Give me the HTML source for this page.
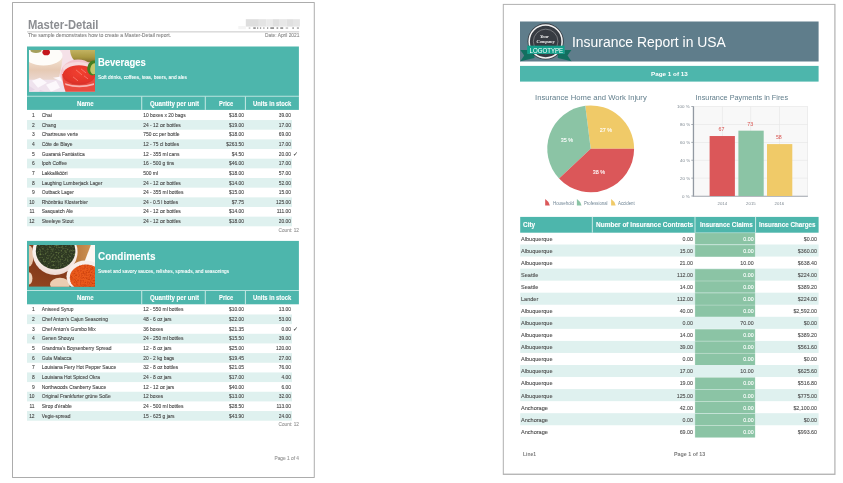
<!DOCTYPE html>
<html lang="en"><head><meta charset="utf-8"><title>Report previews</title>
<style>
html,body{margin:0;padding:0;background:#fff;}
body{width:843px;height:483px;position:relative;overflow:hidden;font-family:"Liberation Sans",sans-serif;}
body>div,body>svg,.tl>div{position:absolute;}
.tl{left:0;top:0;width:843px;height:483px;filter:blur(0.3px);}
.t{white-space:nowrap;transform-origin:0 50%;-webkit-text-stroke:0.1px currentColor;}
.ns{-webkit-text-stroke:0;}
.page{box-sizing:border-box;border:1px solid #a3a3a3;background:#fff;}
.ph{display:block;overflow:hidden;}
</style></head><body>
<svg style="left:0;top:0" width="843" height="483" viewBox="0 0 843 483">
<rect x="12.10" y="2.10" width="302.60" height="475.80" fill="#a3a3a3"/>
<rect x="13.00" y="3.00" width="300.80" height="474.00" fill="#fff"/>
<rect x="27.00" y="31.00" width="272.20" height="1.60" fill="#dcdcdc"/>
<rect x="245.80" y="19.20" width="13.10" height="7.40" fill="#dedede"/>
<rect x="258.80" y="19.20" width="7.60" height="7.40" fill="#e4e4e4"/>
<rect x="266.30" y="19.20" width="6.50" height="7.40" fill="#eaeaea"/>
<rect x="272.70" y="19.20" width="7.00" height="7.40" fill="#dfdfdf"/>
<rect x="279.60" y="19.20" width="7.10" height="7.40" fill="#e7e7e7"/>
<rect x="286.60" y="19.20" width="6.50" height="7.40" fill="#e0e0e0"/>
<rect x="293.00" y="19.20" width="6.90" height="7.40" fill="#e5e5e5"/>
<rect x="238.30" y="26.00" width="7.60" height="3.20" fill="#f4f4f4"/>
<rect x="248.70" y="27.50" width="1.66" height="1.10" fill="#b5b5b5"/>
<rect x="253.27" y="27.50" width="2.49" height="1.10" fill="#555"/>
<rect x="257.01" y="27.50" width="1.25" height="1.10" fill="#6a6a6a"/>
<rect x="259.92" y="27.50" width="1.25" height="1.10" fill="#6a6a6a"/>
<rect x="263.24" y="27.50" width="1.25" height="1.10" fill="#777"/>
<rect x="266.98" y="27.50" width="1.25" height="1.10" fill="#666"/>
<rect x="270.30" y="27.50" width="3.74" height="1.10" fill="#505050"/>
<rect x="276.53" y="27.50" width="1.66" height="1.10" fill="#666"/>
<rect x="280.27" y="27.50" width="2.91" height="1.10" fill="#555"/>
<rect x="285.66" y="27.50" width="2.49" height="1.10" fill="#aaa"/>
<rect x="292.31" y="27.50" width="1.66" height="1.10" fill="#777"/>
<rect x="296.88" y="27.50" width="2.08" height="1.10" fill="#888"/>
<rect x="27.00" y="46.50" width="271.90" height="63.40" fill="#4db6ac"/>
<rect x="27.00" y="95.80" width="271.90" height="0.80" fill="#d5efec"/>
<rect x="141.30" y="96.60" width="0.90" height="13.30" fill="#d5efec"/>
<rect x="204.80" y="96.60" width="0.90" height="13.30" fill="#d5efec"/>
<rect x="244.90" y="96.60" width="0.90" height="13.30" fill="#d5efec"/>
<rect x="27.00" y="120.06" width="265.00" height="9.66" fill="#dff1ef"/>
<rect x="27.00" y="139.38" width="265.00" height="9.66" fill="#dff1ef"/>
<rect x="27.00" y="158.70" width="265.00" height="9.66" fill="#dff1ef"/>
<rect x="27.00" y="178.02" width="265.00" height="9.66" fill="#dff1ef"/>
<rect x="27.00" y="197.34" width="265.00" height="9.66" fill="#dff1ef"/>
<rect x="27.00" y="216.66" width="265.00" height="9.66" fill="#dff1ef"/>
<rect x="27.00" y="240.90" width="271.90" height="63.40" fill="#4db6ac"/>
<rect x="27.00" y="290.20" width="271.90" height="0.80" fill="#d5efec"/>
<rect x="141.30" y="291.00" width="0.90" height="13.30" fill="#d5efec"/>
<rect x="204.80" y="291.00" width="0.90" height="13.30" fill="#d5efec"/>
<rect x="244.90" y="291.00" width="0.90" height="13.30" fill="#d5efec"/>
<rect x="27.00" y="314.46" width="265.00" height="9.66" fill="#dff1ef"/>
<rect x="27.00" y="333.78" width="265.00" height="9.66" fill="#dff1ef"/>
<rect x="27.00" y="353.10" width="265.00" height="9.66" fill="#dff1ef"/>
<rect x="27.00" y="372.42" width="265.00" height="9.66" fill="#dff1ef"/>
<rect x="27.00" y="391.74" width="265.00" height="9.66" fill="#dff1ef"/>
<rect x="27.00" y="411.06" width="265.00" height="9.66" fill="#dff1ef"/>
<rect x="502.80" y="3.90" width="332.70" height="471.00" fill="#b0b0b0"/>
<rect x="503.80" y="4.90" width="330.50" height="468.70" fill="#fff"/>
<rect x="520.00" y="21.50" width="298.60" height="40.00" fill="#5f7d8b"/>
<rect x="520.00" y="65.90" width="298.60" height="15.70" fill="#4db6ac"/>
<rect x="693.70" y="106.50" width="114.20" height="89.50" fill="#f8f8f8"/>
<rect x="721.95" y="106.50" width="0.60" height="89.50" fill="#e6e6e6"/>
<rect x="750.50" y="106.50" width="0.60" height="89.50" fill="#e6e6e6"/>
<rect x="779.05" y="106.50" width="0.60" height="89.50" fill="#e6e6e6"/>
<rect x="807.40" y="106.50" width="0.60" height="89.50" fill="#e6e6e6"/>
<rect x="693.70" y="106.20" width="114.20" height="0.60" fill="#e6e6e6"/>
<rect x="693.70" y="124.10" width="114.20" height="0.60" fill="#e6e6e6"/>
<rect x="693.70" y="142.00" width="114.20" height="0.60" fill="#e6e6e6"/>
<rect x="693.70" y="159.90" width="114.20" height="0.60" fill="#e6e6e6"/>
<rect x="693.70" y="177.80" width="114.20" height="0.60" fill="#e6e6e6"/>
<rect x="692.80" y="106.50" width="1.30" height="90.00" fill="#9299a2"/>
<rect x="692.80" y="195.70" width="115.10" height="1.20" fill="#aeb3ba"/>
<rect x="691.30" y="195.60" width="2.40" height="0.80" fill="#9299a2"/>
<rect x="691.30" y="177.70" width="2.40" height="0.80" fill="#9299a2"/>
<rect x="691.30" y="159.80" width="2.40" height="0.80" fill="#9299a2"/>
<rect x="691.30" y="141.90" width="2.40" height="0.80" fill="#9299a2"/>
<rect x="691.30" y="124.00" width="2.40" height="0.80" fill="#9299a2"/>
<rect x="691.30" y="106.10" width="2.40" height="0.80" fill="#9299a2"/>
<rect x="709.60" y="136.03" width="25.30" height="59.97" fill="#db5759"/>
<rect x="738.40" y="130.67" width="25.30" height="65.33" fill="#8bc4a5"/>
<rect x="767.00" y="144.09" width="25.30" height="51.91" fill="#f0ca68"/>
<rect x="520.20" y="216.90" width="298.40" height="15.80" fill="#4db6ac"/>
<rect x="591.85" y="216.90" width="0.90" height="15.80" fill="#d5efec"/>
<rect x="694.55" y="216.90" width="0.90" height="15.80" fill="#d5efec"/>
<rect x="755.15" y="216.90" width="0.90" height="15.80" fill="#d5efec"/>
<rect x="694.90" y="232.75" width="60.30" height="11.95" fill="#b4d9c6"/>
<rect x="695.30" y="233.20" width="59.60" height="11.30" fill="#8bc4a5"/>
<rect x="520.20" y="244.50" width="298.40" height="12.05" fill="#dff1ef"/>
<rect x="694.90" y="244.80" width="60.30" height="11.95" fill="#b4d9c6"/>
<rect x="695.30" y="245.25" width="59.60" height="11.30" fill="#8bc4a5"/>
<rect x="520.20" y="268.60" width="298.40" height="12.05" fill="#dff1ef"/>
<rect x="694.90" y="268.90" width="60.30" height="11.95" fill="#b4d9c6"/>
<rect x="695.30" y="269.35" width="59.60" height="11.30" fill="#8bc4a5"/>
<rect x="694.90" y="280.95" width="60.30" height="11.95" fill="#b4d9c6"/>
<rect x="695.30" y="281.40" width="59.60" height="11.30" fill="#8bc4a5"/>
<rect x="520.20" y="292.70" width="298.40" height="12.05" fill="#dff1ef"/>
<rect x="694.90" y="293.00" width="60.30" height="11.95" fill="#b4d9c6"/>
<rect x="695.30" y="293.45" width="59.60" height="11.30" fill="#8bc4a5"/>
<rect x="694.90" y="305.05" width="60.30" height="11.95" fill="#b4d9c6"/>
<rect x="695.30" y="305.50" width="59.60" height="11.30" fill="#8bc4a5"/>
<rect x="520.20" y="316.80" width="298.40" height="12.05" fill="#dff1ef"/>
<rect x="694.90" y="329.15" width="60.30" height="11.95" fill="#b4d9c6"/>
<rect x="695.30" y="329.60" width="59.60" height="11.30" fill="#8bc4a5"/>
<rect x="520.20" y="340.90" width="298.40" height="12.05" fill="#dff1ef"/>
<rect x="694.90" y="341.20" width="60.30" height="11.95" fill="#b4d9c6"/>
<rect x="695.30" y="341.65" width="59.60" height="11.30" fill="#8bc4a5"/>
<rect x="694.90" y="353.25" width="60.30" height="11.95" fill="#b4d9c6"/>
<rect x="695.30" y="353.70" width="59.60" height="11.30" fill="#8bc4a5"/>
<rect x="520.20" y="365.00" width="298.40" height="12.05" fill="#dff1ef"/>
<rect x="694.90" y="377.35" width="60.30" height="11.95" fill="#b4d9c6"/>
<rect x="695.30" y="377.80" width="59.60" height="11.30" fill="#8bc4a5"/>
<rect x="520.20" y="389.10" width="298.40" height="12.05" fill="#dff1ef"/>
<rect x="694.90" y="389.40" width="60.30" height="11.95" fill="#b4d9c6"/>
<rect x="695.30" y="389.85" width="59.60" height="11.30" fill="#8bc4a5"/>
<rect x="694.90" y="401.45" width="60.30" height="11.95" fill="#b4d9c6"/>
<rect x="695.30" y="401.90" width="59.60" height="11.30" fill="#8bc4a5"/>
<rect x="520.20" y="413.20" width="298.40" height="12.05" fill="#dff1ef"/>
<rect x="694.90" y="413.50" width="60.30" height="11.95" fill="#b4d9c6"/>
<rect x="695.30" y="413.95" width="59.60" height="11.30" fill="#8bc4a5"/>
<rect x="694.90" y="425.55" width="60.30" height="11.95" fill="#b4d9c6"/>
<rect x="695.30" y="426.00" width="59.60" height="11.30" fill="#8bc4a5"/>
</svg>
<svg class="ph" style="left:29.2px;top:50.40px" width="66" height="41.8" viewBox="0 0 66 42" preserveAspectRatio="none">
<defs><filter id="b1" x="-10%" y="-10%" width="120%" height="120%"><feGaussianBlur stdDeviation="0.55"/></filter>
<filter id="b1b" x="-20%" y="-20%" width="140%" height="140%"><feGaussianBlur stdDeviation="1.1"/></filter>
<clipPath id="c1"><rect width="66" height="42"/></clipPath>
<linearGradient id="gm" x1="0" y1="0" x2="0" y2="1"><stop offset="0" stop-color="#f3e2d2"/><stop offset="0.55" stop-color="#e6c9b3"/><stop offset="1" stop-color="#ead7cf"/></linearGradient>
<linearGradient id="gp" x1="0" y1="0" x2="0" y2="1"><stop offset="0" stop-color="#c6b765"/><stop offset="0.6" stop-color="#a99842"/><stop offset="1" stop-color="#7d6b28"/></linearGradient>
<radialGradient id="gr" cx="0.55" cy="0.35" r="0.75"><stop offset="0" stop-color="#f2402f"/><stop offset="0.7" stop-color="#e3342b"/><stop offset="1" stop-color="#c92c28"/></radialGradient>
</defs>
<g clip-path="url(#c1)"><rect width="66" height="42" fill="#f5e1e8"/>
<g filter="url(#b1)">
<rect x="-2" y="27" width="38" height="17" fill="#efe3ee"/>
<path d="M-2 8 L33.5 8 Q32 22 29 30 L-2 30Z" fill="url(#gm)"/>
<ellipse cx="14.5" cy="5.5" rx="19" ry="10" fill="#fefcf9"/>
<ellipse cx="7" cy="0.6" rx="5.5" ry="2.3" fill="#a59f5c"/>
<ellipse cx="17.2" cy="2.3" rx="3.8" ry="3.1" fill="#c4151d"/>
<path d="M41 -1 L67 -1 L67 11 Q55 15 45 10 Q41 6 41 -1Z" fill="url(#gp)"/>
<ellipse cx="49" cy="24" rx="17.5" ry="14.5" fill="#f3c4cc"/>
<ellipse cx="49" cy="18" rx="15" ry="6" fill="#f7d9dc"/>
<path d="M33 24 Q34 36 37 43 L66 43 L66 22 Z" fill="#ea4c40"/>
<ellipse cx="50" cy="25" rx="16.2" ry="9.8" fill="url(#gr)"/>
<path d="M36 33.5 Q50 38 65 33.5 L65 35.2 Q50 39.6 36.5 35.2Z" fill="#f8b4b2"/>
<path d="M47 20 l6 5 M52 19 l5 4 M55 26 l4 3 M44 27 l5 4" stroke="#f77a6c" stroke-width="0.9" fill="none"/>
<ellipse cx="64" cy="18" rx="5.6" ry="7.6" fill="#457f20" transform="rotate(12 64 18)"/>
<ellipse cx="65.3" cy="18.6" rx="3.8" ry="5.6" fill="#c3c76c" transform="rotate(12 64 18)"/>
<path d="M3 31 L11 28 L18 33 L9 38Z M17 35 L27 31 L31 38 L22 42Z M24 28 L31 27 L33 32Z" fill="#fcf8fc"/>
<path d="M0 36 L6 40 L0 42Z M11 40 L16 42 L10 42Z" fill="#e6d6e6"/>
</g></g></svg>
<svg class="ph" style="left:29.2px;top:244.80px" width="66" height="41.8" viewBox="0 0 66 42" preserveAspectRatio="none">
<defs><filter id="b2" x="-10%" y="-10%" width="120%" height="120%"><feGaussianBlur stdDeviation="0.5"/></filter>
<filter id="tx1" x="0" y="0" width="100%" height="100%" color-interpolation-filters="sRGB"><feTurbulence type="fractalNoise" baseFrequency="0.55" numOctaves="2" seed="4" result="n"/><feColorMatrix in="n" type="matrix" values="0 0 0 0 0.40  0 0 0 0 0.47  0 0 0 0 0.26  0 2.4 0 0 -1.1" result="sp"/><feComposite in="sp" in2="SourceGraphic" operator="in" result="spc"/><feMerge><feMergeNode in="SourceGraphic"/><feMergeNode in="spc"/></feMerge></filter>
<filter id="tx2" x="0" y="0" width="100%" height="100%" color-interpolation-filters="sRGB"><feTurbulence type="fractalNoise" baseFrequency="0.7" numOctaves="2" seed="9" result="n"/><feColorMatrix in="n" type="matrix" values="0 0 0 0 0.78  0 0 0 0 0.24  0 0 0 0 0.05  0 2.4 0 0 -1.0" result="sp"/><feComposite in="sp" in2="SourceGraphic" operator="in" result="spc"/><feMerge><feMergeNode in="SourceGraphic"/><feMergeNode in="spc"/></feMerge></filter>
<clipPath id="c2"><rect width="66" height="42"/></clipPath>
<radialGradient id="gw" cx="0.4" cy="0.3" r="0.8"><stop offset="0" stop-color="#7a3218"/><stop offset="1" stop-color="#93461f"/></radialGradient>
<linearGradient id="gwd" x1="0" y1="0" x2="1" y2="0"><stop offset="0" stop-color="#b9793c"/><stop offset="1" stop-color="#cd9355"/></linearGradient>
<radialGradient id="gb" cx="0.5" cy="0.2" r="0.9"><stop offset="0.6" stop-color="#faf3ef"/><stop offset="1" stop-color="#e9cfc6"/></radialGradient>
</defs>
<g clip-path="url(#c2)"><rect width="66" height="42" fill="url(#gw)"/>
<g filter="url(#b2)">
<path d="M47 -2 L63 -2 L56 17 L46 19Z" fill="url(#gwd)"/>
<path d="M62.6 -2 L68 -2 L68 24 L55 18Z" fill="#fdf9f4"/>
<ellipse cx="0.3" cy="11" rx="4.2" ry="10.5" fill="#e7c3a8"/>
<ellipse cx="0" cy="33.5" rx="3.4" ry="6.2" fill="#edd3bd"/>
<ellipse cx="31" cy="39.5" rx="10" ry="6.5" fill="#eccdb2"/>
<ellipse cx="26" cy="7" rx="22.6" ry="23.2" fill="url(#gb)"/>
<ellipse cx="26.6" cy="6" rx="19.8" ry="18.4" fill="#2d3823" filter="url(#tx1)"/>
<ellipse cx="56.5" cy="31.5" rx="19" ry="16" fill="#f8eee9"/>
<ellipse cx="57" cy="33" rx="16.2" ry="13.4" fill="#ea5a1c" filter="url(#tx2)"/>
</g></g></svg>
<svg class="ph" style="left:519px;top:21.6px" width="54" height="40" viewBox="0 0 54 40">
<path d="M1.35 28 L8.65 28 L8.65 31.9 L15.46 31.9 L15.46 36.1 L1.35 39.2 L5.24 33.6Z" fill="#126f60"/>
<path d="M52.4 28 L45.6 28 L45.6 31.9 L38.8 31.9 L38.8 36.1 L52.4 39.2 L48.5 33.6Z" fill="#126f60"/>
<circle cx="26.65" cy="19.46" r="18.1" fill="#373b42"/>
<circle cx="26.65" cy="19.46" r="16.5" fill="none" stroke="#f4f4f4" stroke-width="1.5"/>
<circle cx="26.65" cy="19.46" r="12.3" fill="none" stroke="#d5d5d5" stroke-width="0.4"/>
<text x="25.4" y="15.7" font-family="Liberation Serif,serif" font-style="italic" font-weight="bold" font-size="4.6" fill="#f4f4f4" text-anchor="middle">Your</text>
<text x="26.65" y="21.2" font-family="Liberation Serif,serif" font-style="italic" font-weight="bold" font-size="4.6" fill="#f4f4f4" text-anchor="middle">Company</text>
<rect x="8.16" y="23.65" width="37.45" height="8.25" fill="#12a08b"/>
<text x="27.4" y="30.75" font-family="Liberation Sans,sans-serif" font-size="7.2" fill="#fff" text-anchor="middle" textLength="33.6" lengthAdjust="spacingAndGlyphs">LOGOTYPE</text>
</svg>
<svg class="ph" style="left:540px;top:100px" width="100" height="110" viewBox="0 0 100 110"><path d="M50.70 48.80 L94.10 48.80 A43.4 43.4 0 0 0 45.26 5.74Z" fill="#f0ca68"/><path d="M50.70 48.80 L45.26 5.74 A43.4 43.4 0 0 0 19.06 78.51Z" fill="#8bc4a5"/><path d="M50.70 48.80 L19.06 78.51 A43.4 43.4 0 0 0 94.10 48.80Z" fill="#db5759"/><path d="M5.2 99.1 L5.2 105.4 L9.8 105.4 Q8.6 101.2 5.2 99.1Z" fill="#db5759"/><path d="M36.9 99.1 L36.9 105.4 L41.5 105.4 Q40.3 101.2 36.9 99.1Z" fill="#8bc4a5"/><path d="M71.1 99.1 L71.1 105.4 L75.7 105.4 Q74.5 101.2 71.1 99.1Z" fill="#f0ca68"/></svg>
<div class="tl">
<div class="t ns" style="left:27.70px;top:17px;font-size:11.9px;line-height:16px;color:#8c8e92;font-weight:bold;transform:scaleX(0.943);">Master-Detail</div>
<div class="t" style="left:27.50px;top:32px;font-size:4.9px;line-height:7px;color:#858585;transform:scaleX(1.042);">The sample demonstrates how to create a Master-Detail report.</div>
<div class="t" style="left:264.50px;top:32px;font-size:4.9px;line-height:7px;color:#8a8a8a;transform:scaleX(0.990);">Date: April 2021</div>
<div class="t" style="left:98.20px;top:56px;font-size:10.4px;line-height:13px;color:#fff;font-weight:bold;transform:scaleX(0.909);">Beverages</div>
<div class="t" style="left:98.10px;top:74px;font-size:4.85px;line-height:7px;color:#fff;">Soft drinks, coffees, teas, beers, and ales</div>
<div class="t" style="left:76.70px;top:99px;font-size:6.9px;line-height:9px;color:#fff;font-weight:bold;transform:scaleX(0.883);">Name</div>
<div class="t" style="left:149.60px;top:99px;font-size:6.9px;line-height:9px;color:#fff;font-weight:bold;transform:scaleX(0.891);">Quantity per unit</div>
<div class="t" style="left:218.55px;top:99px;font-size:6.9px;line-height:9px;color:#fff;font-weight:bold;transform:scaleX(0.847);">Price</div>
<div class="t" style="left:253.20px;top:99px;font-size:6.9px;line-height:9px;color:#fff;font-weight:bold;transform:scaleX(0.849);">Units in stock</div>
<div class="t" style="left:31.88px;top:112px;font-size:4.9px;line-height:7px;color:#464646;">1</div>
<div class="t" style="left:41.70px;top:112px;font-size:4.9px;line-height:7px;color:#464646;">Chai</div>
<div class="t" style="left:143.30px;top:112px;font-size:4.9px;line-height:7px;color:#464646;">10 boxes x 20 bags</div>
<div class="t" style="left:229.01px;top:112px;font-size:4.9px;line-height:7px;color:#464646;">$18.00</div>
<div class="t" style="left:278.74px;top:112px;font-size:4.9px;line-height:7px;color:#464646;">39.00</div>
<div class="t" style="left:31.88px;top:122px;font-size:4.9px;line-height:7px;color:#464646;">2</div>
<div class="t" style="left:41.70px;top:122px;font-size:4.9px;line-height:7px;color:#464646;">Chang</div>
<div class="t" style="left:143.30px;top:122px;font-size:4.9px;line-height:7px;color:#464646;">24 - 12 oz bottles</div>
<div class="t" style="left:229.01px;top:122px;font-size:4.9px;line-height:7px;color:#464646;">$19.00</div>
<div class="t" style="left:278.74px;top:122px;font-size:4.9px;line-height:7px;color:#464646;">17.00</div>
<div class="t" style="left:31.88px;top:131px;font-size:4.9px;line-height:7px;color:#464646;">3</div>
<div class="t" style="left:41.70px;top:131px;font-size:4.9px;line-height:7px;color:#464646;">Chartreuse verte</div>
<div class="t" style="left:143.30px;top:131px;font-size:4.9px;line-height:7px;color:#464646;">750 cc per bottle</div>
<div class="t" style="left:229.01px;top:131px;font-size:4.9px;line-height:7px;color:#464646;">$18.00</div>
<div class="t" style="left:278.74px;top:131px;font-size:4.9px;line-height:7px;color:#464646;">69.00</div>
<div class="t" style="left:31.88px;top:141px;font-size:4.9px;line-height:7px;color:#464646;">4</div>
<div class="t" style="left:41.70px;top:141px;font-size:4.9px;line-height:7px;color:#464646;">Côte de Blaye</div>
<div class="t" style="left:143.30px;top:141px;font-size:4.9px;line-height:7px;color:#464646;">12 - 75 cl bottles</div>
<div class="t" style="left:226.29px;top:141px;font-size:4.9px;line-height:7px;color:#464646;">$263.50</div>
<div class="t" style="left:278.74px;top:141px;font-size:4.9px;line-height:7px;color:#464646;">17.00</div>
<div class="t" style="left:31.88px;top:151px;font-size:4.9px;line-height:7px;color:#464646;">5</div>
<div class="t" style="left:41.70px;top:151px;font-size:4.9px;line-height:7px;color:#464646;">Guaraná Fantástica</div>
<div class="t" style="left:143.30px;top:151px;font-size:4.9px;line-height:7px;color:#464646;">12 - 355 ml cans</div>
<div class="t" style="left:231.74px;top:151px;font-size:4.9px;line-height:7px;color:#464646;">$4.50</div>
<div class="t" style="left:278.74px;top:151px;font-size:4.9px;line-height:7px;color:#464646;">20.00</div>
<div class="t" style="left:292.90px;top:149px;font-size:6.4px;line-height:9px;color:#3a3a3a;font-family:"DejaVu Sans",sans-serif;">✓</div>
<div class="t" style="left:31.88px;top:160px;font-size:4.9px;line-height:7px;color:#464646;">6</div>
<div class="t" style="left:41.70px;top:160px;font-size:4.9px;line-height:7px;color:#464646;">Ipoh Coffee</div>
<div class="t" style="left:143.30px;top:160px;font-size:4.9px;line-height:7px;color:#464646;">16 - 500 g tins</div>
<div class="t" style="left:229.01px;top:160px;font-size:4.9px;line-height:7px;color:#464646;">$46.00</div>
<div class="t" style="left:278.74px;top:160px;font-size:4.9px;line-height:7px;color:#464646;">17.00</div>
<div class="t" style="left:31.88px;top:170px;font-size:4.9px;line-height:7px;color:#464646;">7</div>
<div class="t" style="left:41.70px;top:170px;font-size:4.9px;line-height:7px;color:#464646;">Lakkalikööri</div>
<div class="t" style="left:143.30px;top:170px;font-size:4.9px;line-height:7px;color:#464646;">500 ml</div>
<div class="t" style="left:229.01px;top:170px;font-size:4.9px;line-height:7px;color:#464646;">$18.00</div>
<div class="t" style="left:278.74px;top:170px;font-size:4.9px;line-height:7px;color:#464646;">57.00</div>
<div class="t" style="left:31.88px;top:180px;font-size:4.9px;line-height:7px;color:#464646;">8</div>
<div class="t" style="left:41.70px;top:180px;font-size:4.9px;line-height:7px;color:#464646;">Laughing Lumberjack Lager</div>
<div class="t" style="left:143.30px;top:180px;font-size:4.9px;line-height:7px;color:#464646;">24 - 12 oz bottles</div>
<div class="t" style="left:229.01px;top:180px;font-size:4.9px;line-height:7px;color:#464646;">$14.00</div>
<div class="t" style="left:278.74px;top:180px;font-size:4.9px;line-height:7px;color:#464646;">52.00</div>
<div class="t" style="left:31.88px;top:189px;font-size:4.9px;line-height:7px;color:#464646;">9</div>
<div class="t" style="left:41.70px;top:189px;font-size:4.9px;line-height:7px;color:#464646;">Outback Lager</div>
<div class="t" style="left:143.30px;top:189px;font-size:4.9px;line-height:7px;color:#464646;">24 - 355 ml bottles</div>
<div class="t" style="left:229.01px;top:189px;font-size:4.9px;line-height:7px;color:#464646;">$15.00</div>
<div class="t" style="left:278.74px;top:189px;font-size:4.9px;line-height:7px;color:#464646;">15.00</div>
<div class="t" style="left:29.15px;top:199px;font-size:4.9px;line-height:7px;color:#464646;">10</div>
<div class="t" style="left:41.70px;top:199px;font-size:4.9px;line-height:7px;color:#464646;">Rhönbräu Klosterbier</div>
<div class="t" style="left:143.30px;top:199px;font-size:4.9px;line-height:7px;color:#464646;">24 - 0.5 l bottles</div>
<div class="t" style="left:231.74px;top:199px;font-size:4.9px;line-height:7px;color:#464646;">$7.75</div>
<div class="t" style="left:276.01px;top:199px;font-size:4.9px;line-height:7px;color:#464646;">125.00</div>
<div class="t" style="left:29.51px;top:208px;font-size:4.9px;line-height:7px;color:#464646;">11</div>
<div class="t" style="left:41.70px;top:208px;font-size:4.9px;line-height:7px;color:#464646;">Sasquatch Ale</div>
<div class="t" style="left:143.30px;top:208px;font-size:4.9px;line-height:7px;color:#464646;">24 - 12 oz bottles</div>
<div class="t" style="left:229.01px;top:208px;font-size:4.9px;line-height:7px;color:#464646;">$14.00</div>
<div class="t" style="left:276.74px;top:208px;font-size:4.9px;line-height:7px;color:#464646;">111.00</div>
<div class="t" style="left:29.15px;top:218px;font-size:4.9px;line-height:7px;color:#464646;">12</div>
<div class="t" style="left:41.70px;top:218px;font-size:4.9px;line-height:7px;color:#464646;">Steeleye Stout</div>
<div class="t" style="left:143.30px;top:218px;font-size:4.9px;line-height:7px;color:#464646;">24 - 12 oz bottles</div>
<div class="t" style="left:229.01px;top:218px;font-size:4.9px;line-height:7px;color:#464646;">$18.00</div>
<div class="t" style="left:278.74px;top:218px;font-size:4.9px;line-height:7px;color:#464646;">20.00</div>
<div class="t" style="left:278.62px;top:227px;font-size:4.7px;line-height:7px;color:#959595;">Count: 12</div>
<div class="t" style="left:98.20px;top:250px;font-size:10.4px;line-height:13px;color:#fff;font-weight:bold;transform:scaleX(0.957);">Condiments</div>
<div class="t" style="left:98.10px;top:268px;font-size:4.85px;line-height:7px;color:#fff;">Sweet and savory sauces, relishes, spreads, and seasonings</div>
<div class="t" style="left:76.70px;top:293px;font-size:6.9px;line-height:9px;color:#fff;font-weight:bold;transform:scaleX(0.883);">Name</div>
<div class="t" style="left:149.60px;top:293px;font-size:6.9px;line-height:9px;color:#fff;font-weight:bold;transform:scaleX(0.891);">Quantity per unit</div>
<div class="t" style="left:218.55px;top:293px;font-size:6.9px;line-height:9px;color:#fff;font-weight:bold;transform:scaleX(0.847);">Price</div>
<div class="t" style="left:253.20px;top:293px;font-size:6.9px;line-height:9px;color:#fff;font-weight:bold;transform:scaleX(0.849);">Units in stock</div>
<div class="t" style="left:31.88px;top:306px;font-size:4.9px;line-height:7px;color:#464646;">1</div>
<div class="t" style="left:41.70px;top:306px;font-size:4.9px;line-height:7px;color:#464646;">Aniseed Syrup</div>
<div class="t" style="left:143.30px;top:306px;font-size:4.9px;line-height:7px;color:#464646;">12 - 550 ml bottles</div>
<div class="t" style="left:229.01px;top:306px;font-size:4.9px;line-height:7px;color:#464646;">$10.00</div>
<div class="t" style="left:278.74px;top:306px;font-size:4.9px;line-height:7px;color:#464646;">13.00</div>
<div class="t" style="left:31.88px;top:316px;font-size:4.9px;line-height:7px;color:#464646;">2</div>
<div class="t" style="left:41.70px;top:316px;font-size:4.9px;line-height:7px;color:#464646;">Chef Anton&#x27;s Cajun Seasoning</div>
<div class="t" style="left:143.30px;top:316px;font-size:4.9px;line-height:7px;color:#464646;">48 - 6 oz jars</div>
<div class="t" style="left:229.01px;top:316px;font-size:4.9px;line-height:7px;color:#464646;">$22.00</div>
<div class="t" style="left:278.74px;top:316px;font-size:4.9px;line-height:7px;color:#464646;">53.00</div>
<div class="t" style="left:31.88px;top:326px;font-size:4.9px;line-height:7px;color:#464646;">3</div>
<div class="t" style="left:41.70px;top:326px;font-size:4.9px;line-height:7px;color:#464646;">Chef Anton&#x27;s Gumbo Mix</div>
<div class="t" style="left:143.30px;top:326px;font-size:4.9px;line-height:7px;color:#464646;">36 boxes</div>
<div class="t" style="left:229.01px;top:326px;font-size:4.9px;line-height:7px;color:#464646;">$21.35</div>
<div class="t" style="left:281.46px;top:326px;font-size:4.9px;line-height:7px;color:#464646;">0.00</div>
<div class="t" style="left:292.90px;top:324px;font-size:6.4px;line-height:9px;color:#3a3a3a;font-family:"DejaVu Sans",sans-serif;">✓</div>
<div class="t" style="left:31.88px;top:335px;font-size:4.9px;line-height:7px;color:#464646;">4</div>
<div class="t" style="left:41.70px;top:335px;font-size:4.9px;line-height:7px;color:#464646;">Genen Shouyu</div>
<div class="t" style="left:143.30px;top:335px;font-size:4.9px;line-height:7px;color:#464646;">24 - 250 ml bottles</div>
<div class="t" style="left:229.01px;top:335px;font-size:4.9px;line-height:7px;color:#464646;">$15.50</div>
<div class="t" style="left:278.74px;top:335px;font-size:4.9px;line-height:7px;color:#464646;">39.00</div>
<div class="t" style="left:31.88px;top:345px;font-size:4.9px;line-height:7px;color:#464646;">5</div>
<div class="t" style="left:41.70px;top:345px;font-size:4.9px;line-height:7px;color:#464646;">Grandma&#x27;s Boysenberry Spread</div>
<div class="t" style="left:143.30px;top:345px;font-size:4.9px;line-height:7px;color:#464646;">12 - 8 oz jars</div>
<div class="t" style="left:229.01px;top:345px;font-size:4.9px;line-height:7px;color:#464646;">$25.00</div>
<div class="t" style="left:276.01px;top:345px;font-size:4.9px;line-height:7px;color:#464646;">120.00</div>
<div class="t" style="left:31.88px;top:355px;font-size:4.9px;line-height:7px;color:#464646;">6</div>
<div class="t" style="left:41.70px;top:355px;font-size:4.9px;line-height:7px;color:#464646;">Gula Malacca</div>
<div class="t" style="left:143.30px;top:355px;font-size:4.9px;line-height:7px;color:#464646;">20 - 2 kg bags</div>
<div class="t" style="left:229.01px;top:355px;font-size:4.9px;line-height:7px;color:#464646;">$19.45</div>
<div class="t" style="left:278.74px;top:355px;font-size:4.9px;line-height:7px;color:#464646;">27.00</div>
<div class="t" style="left:31.88px;top:364px;font-size:4.9px;line-height:7px;color:#464646;">7</div>
<div class="t" style="left:41.70px;top:364px;font-size:4.9px;line-height:7px;color:#464646;">Louisiana Fiery Hot Pepper Sauce</div>
<div class="t" style="left:143.30px;top:364px;font-size:4.9px;line-height:7px;color:#464646;">32 - 8 oz bottles</div>
<div class="t" style="left:229.01px;top:364px;font-size:4.9px;line-height:7px;color:#464646;">$21.05</div>
<div class="t" style="left:278.74px;top:364px;font-size:4.9px;line-height:7px;color:#464646;">76.00</div>
<div class="t" style="left:31.88px;top:374px;font-size:4.9px;line-height:7px;color:#464646;">8</div>
<div class="t" style="left:41.70px;top:374px;font-size:4.9px;line-height:7px;color:#464646;">Louisiana Hot Spiced Okra</div>
<div class="t" style="left:143.30px;top:374px;font-size:4.9px;line-height:7px;color:#464646;">24 - 8 oz jars</div>
<div class="t" style="left:229.01px;top:374px;font-size:4.9px;line-height:7px;color:#464646;">$17.00</div>
<div class="t" style="left:281.46px;top:374px;font-size:4.9px;line-height:7px;color:#464646;">4.00</div>
<div class="t" style="left:31.88px;top:384px;font-size:4.9px;line-height:7px;color:#464646;">9</div>
<div class="t" style="left:41.70px;top:384px;font-size:4.9px;line-height:7px;color:#464646;">Northwoods Cranberry Sauce</div>
<div class="t" style="left:143.30px;top:384px;font-size:4.9px;line-height:7px;color:#464646;">12 - 12 oz jars</div>
<div class="t" style="left:229.01px;top:384px;font-size:4.9px;line-height:7px;color:#464646;">$40.00</div>
<div class="t" style="left:281.46px;top:384px;font-size:4.9px;line-height:7px;color:#464646;">6.00</div>
<div class="t" style="left:29.15px;top:393px;font-size:4.9px;line-height:7px;color:#464646;">10</div>
<div class="t" style="left:41.70px;top:393px;font-size:4.9px;line-height:7px;color:#464646;">Original Frankfurter grüne Soße</div>
<div class="t" style="left:143.30px;top:393px;font-size:4.9px;line-height:7px;color:#464646;">12 boxes</div>
<div class="t" style="left:229.01px;top:393px;font-size:4.9px;line-height:7px;color:#464646;">$13.00</div>
<div class="t" style="left:278.74px;top:393px;font-size:4.9px;line-height:7px;color:#464646;">32.00</div>
<div class="t" style="left:29.51px;top:403px;font-size:4.9px;line-height:7px;color:#464646;">11</div>
<div class="t" style="left:41.70px;top:403px;font-size:4.9px;line-height:7px;color:#464646;">Sirop d&#x27;érable</div>
<div class="t" style="left:143.30px;top:403px;font-size:4.9px;line-height:7px;color:#464646;">24 - 500 ml bottles</div>
<div class="t" style="left:229.01px;top:403px;font-size:4.9px;line-height:7px;color:#464646;">$28.50</div>
<div class="t" style="left:276.38px;top:403px;font-size:4.9px;line-height:7px;color:#464646;">113.00</div>
<div class="t" style="left:29.15px;top:413px;font-size:4.9px;line-height:7px;color:#464646;">12</div>
<div class="t" style="left:41.70px;top:413px;font-size:4.9px;line-height:7px;color:#464646;">Vegie-spread</div>
<div class="t" style="left:143.30px;top:413px;font-size:4.9px;line-height:7px;color:#464646;">15 - 625 g jars</div>
<div class="t" style="left:229.01px;top:413px;font-size:4.9px;line-height:7px;color:#464646;">$43.90</div>
<div class="t" style="left:278.74px;top:413px;font-size:4.9px;line-height:7px;color:#464646;">24.00</div>
<div class="t" style="left:278.62px;top:421px;font-size:4.7px;line-height:7px;color:#959595;">Count: 12</div>
<div class="t" style="left:274.45px;top:455px;font-size:4.8px;line-height:7px;color:#959595;">Page 1 of 4</div>
<div class="t ns" style="left:650.60px;top:69px;font-size:6.1px;line-height:9px;color:#fff;font-weight:bold;transform:scaleX(1.034);">Page 1 of 13</div>
<div class="t ns" style="left:571.60px;top:34px;font-size:13.8px;line-height:17px;color:#fff;transform:scaleX(1.008);">Insurance Report in USA</div>
<div class="t ns" style="left:535.00px;top:92px;font-size:7.3px;line-height:11px;color:#607d8b;transform:scaleX(1.049);">Insurance Home and Work Injury</div>
<div class="t ns" style="left:695.60px;top:92px;font-size:7.3px;line-height:11px;color:#607d8b;">Insurance Payments in Fires</div>
<div class="t" style="left:599.85px;top:126px;font-size:5.4px;line-height:8px;color:#fff;">27 %</div>
<div class="t" style="left:560.85px;top:136px;font-size:5.4px;line-height:8px;color:#fff;">35 %</div>
<div class="t" style="left:592.85px;top:168px;font-size:5.4px;line-height:8px;color:#fff;">38 %</div>
<div class="t ns" style="left:552.70px;top:200px;font-size:4.5px;line-height:7px;color:#6f8494;transform:scaleX(0.976);">Household</div>
<div class="t ns" style="left:584.40px;top:200px;font-size:4.5px;line-height:7px;color:#6f8494;transform:scaleX(0.949);">Professional</div>
<div class="t ns" style="left:618.30px;top:200px;font-size:4.5px;line-height:7px;color:#6f8494;transform:scaleX(0.968);">Accident</div>
<div class="t ns" style="left:682.33px;top:193px;font-size:4.2px;line-height:7px;color:#7d8790;transform:scaleX(1.060);">0 %</div>
<div class="t ns" style="left:679.85px;top:175px;font-size:4.2px;line-height:7px;color:#7d8790;transform:scaleX(1.060);">20 %</div>
<div class="t ns" style="left:679.85px;top:157px;font-size:4.2px;line-height:7px;color:#7d8790;transform:scaleX(1.060);">40 %</div>
<div class="t ns" style="left:679.85px;top:139px;font-size:4.2px;line-height:7px;color:#7d8790;transform:scaleX(1.060);">60 %</div>
<div class="t ns" style="left:679.85px;top:121px;font-size:4.2px;line-height:7px;color:#7d8790;transform:scaleX(1.060);">80 %</div>
<div class="t ns" style="left:677.38px;top:103px;font-size:4.2px;line-height:7px;color:#7d8790;transform:scaleX(1.060);">100 %</div>
<div class="t ns" style="left:718.50px;top:125px;font-size:5.3px;line-height:8px;color:#d9534f;">67</div>
<div class="t ns" style="left:747.30px;top:120px;font-size:5.3px;line-height:8px;color:#d9534f;">73</div>
<div class="t ns" style="left:775.90px;top:133px;font-size:5.3px;line-height:8px;color:#d9534f;">58</div>
<div class="t ns" style="left:717.52px;top:200px;font-size:4.3px;line-height:7px;color:#7d8790;">2014</div>
<div class="t ns" style="left:746.12px;top:200px;font-size:4.3px;line-height:7px;color:#7d8790;">2015</div>
<div class="t ns" style="left:774.62px;top:200px;font-size:4.3px;line-height:7px;color:#7d8790;">2016</div>
<div class="t" style="left:522.50px;top:220px;font-size:7px;line-height:9px;color:#fff;font-weight:bold;transform:scaleX(0.915);">City</div>
<div class="t" style="left:596.10px;top:220px;font-size:7px;line-height:9px;color:#fff;font-weight:bold;transform:scaleX(0.929);">Number of Insurance Contracts</div>
<div class="t" style="left:699.60px;top:220px;font-size:7px;line-height:9px;color:#fff;font-weight:bold;transform:scaleX(0.909);">Insurance Claims</div>
<div class="t" style="left:759.40px;top:220px;font-size:7px;line-height:9px;color:#fff;font-weight:bold;transform:scaleX(0.897);">Insurance Charges</div>
<div class="t" style="left:743.29px;top:235px;font-size:5.3px;line-height:8px;color:#fff;">0.00</div>
<div class="t" style="left:521.00px;top:235px;font-size:5.3px;line-height:8px;color:#4f4f4f;transform:scaleX(1.050);">Albuquerque</div>
<div class="t" style="left:682.59px;top:235px;font-size:5.3px;line-height:8px;color:#4f4f4f;">0.00</div>
<div class="t" style="left:803.74px;top:235px;font-size:5.3px;line-height:8px;color:#4f4f4f;">$0.00</div>
<div class="t" style="left:743.29px;top:247px;font-size:5.3px;line-height:8px;color:#fff;">0.00</div>
<div class="t" style="left:521.00px;top:247px;font-size:5.3px;line-height:8px;color:#4f4f4f;transform:scaleX(1.050);">Albuquerque</div>
<div class="t" style="left:679.64px;top:247px;font-size:5.3px;line-height:8px;color:#4f4f4f;">15.00</div>
<div class="t" style="left:797.84px;top:247px;font-size:5.3px;line-height:8px;color:#4f4f4f;">$360.00</div>
<div class="t" style="left:740.34px;top:259px;font-size:5.3px;line-height:8px;color:#4f4f4f;">10.00</div>
<div class="t" style="left:521.00px;top:259px;font-size:5.3px;line-height:8px;color:#4f4f4f;transform:scaleX(1.050);">Albuquerque</div>
<div class="t" style="left:679.64px;top:259px;font-size:5.3px;line-height:8px;color:#4f4f4f;">21.00</div>
<div class="t" style="left:797.84px;top:259px;font-size:5.3px;line-height:8px;color:#4f4f4f;">$638.40</div>
<div class="t" style="left:743.29px;top:271px;font-size:5.3px;line-height:8px;color:#fff;">0.00</div>
<div class="t" style="left:521.00px;top:271px;font-size:5.3px;line-height:8px;color:#4f4f4f;transform:scaleX(1.050);">Seattle</div>
<div class="t" style="left:677.08px;top:271px;font-size:5.3px;line-height:8px;color:#4f4f4f;">112.00</div>
<div class="t" style="left:797.84px;top:271px;font-size:5.3px;line-height:8px;color:#4f4f4f;">$224.00</div>
<div class="t" style="left:743.29px;top:283px;font-size:5.3px;line-height:8px;color:#fff;">0.00</div>
<div class="t" style="left:521.00px;top:283px;font-size:5.3px;line-height:8px;color:#4f4f4f;transform:scaleX(1.050);">Seattle</div>
<div class="t" style="left:679.64px;top:283px;font-size:5.3px;line-height:8px;color:#4f4f4f;">14.00</div>
<div class="t" style="left:797.84px;top:283px;font-size:5.3px;line-height:8px;color:#4f4f4f;">$389.20</div>
<div class="t" style="left:743.29px;top:295px;font-size:5.3px;line-height:8px;color:#fff;">0.00</div>
<div class="t" style="left:521.00px;top:295px;font-size:5.3px;line-height:8px;color:#4f4f4f;transform:scaleX(1.050);">Lander</div>
<div class="t" style="left:677.08px;top:295px;font-size:5.3px;line-height:8px;color:#4f4f4f;">112.00</div>
<div class="t" style="left:797.84px;top:295px;font-size:5.3px;line-height:8px;color:#4f4f4f;">$224.00</div>
<div class="t" style="left:743.29px;top:307px;font-size:5.3px;line-height:8px;color:#fff;">0.00</div>
<div class="t" style="left:521.00px;top:307px;font-size:5.3px;line-height:8px;color:#4f4f4f;transform:scaleX(1.050);">Albuquerque</div>
<div class="t" style="left:679.64px;top:307px;font-size:5.3px;line-height:8px;color:#4f4f4f;">40.00</div>
<div class="t" style="left:793.42px;top:307px;font-size:5.3px;line-height:8px;color:#4f4f4f;">$2,592.00</div>
<div class="t" style="left:740.34px;top:319px;font-size:5.3px;line-height:8px;color:#4f4f4f;">70.00</div>
<div class="t" style="left:521.00px;top:319px;font-size:5.3px;line-height:8px;color:#4f4f4f;transform:scaleX(1.050);">Albuquerque</div>
<div class="t" style="left:682.59px;top:319px;font-size:5.3px;line-height:8px;color:#4f4f4f;">0.00</div>
<div class="t" style="left:803.74px;top:319px;font-size:5.3px;line-height:8px;color:#4f4f4f;">$0.00</div>
<div class="t" style="left:743.29px;top:331px;font-size:5.3px;line-height:8px;color:#fff;">0.00</div>
<div class="t" style="left:521.00px;top:331px;font-size:5.3px;line-height:8px;color:#4f4f4f;transform:scaleX(1.050);">Albuquerque</div>
<div class="t" style="left:679.64px;top:331px;font-size:5.3px;line-height:8px;color:#4f4f4f;">14.00</div>
<div class="t" style="left:797.84px;top:331px;font-size:5.3px;line-height:8px;color:#4f4f4f;">$389.20</div>
<div class="t" style="left:743.29px;top:343px;font-size:5.3px;line-height:8px;color:#fff;">0.00</div>
<div class="t" style="left:521.00px;top:343px;font-size:5.3px;line-height:8px;color:#4f4f4f;transform:scaleX(1.050);">Albuquerque</div>
<div class="t" style="left:679.64px;top:343px;font-size:5.3px;line-height:8px;color:#4f4f4f;">39.00</div>
<div class="t" style="left:797.84px;top:343px;font-size:5.3px;line-height:8px;color:#4f4f4f;">$561.60</div>
<div class="t" style="left:743.29px;top:355px;font-size:5.3px;line-height:8px;color:#fff;">0.00</div>
<div class="t" style="left:521.00px;top:355px;font-size:5.3px;line-height:8px;color:#4f4f4f;transform:scaleX(1.050);">Albuquerque</div>
<div class="t" style="left:682.59px;top:355px;font-size:5.3px;line-height:8px;color:#4f4f4f;">0.00</div>
<div class="t" style="left:803.74px;top:355px;font-size:5.3px;line-height:8px;color:#4f4f4f;">$0.00</div>
<div class="t" style="left:740.34px;top:367px;font-size:5.3px;line-height:8px;color:#4f4f4f;">10.00</div>
<div class="t" style="left:521.00px;top:367px;font-size:5.3px;line-height:8px;color:#4f4f4f;transform:scaleX(1.050);">Albuquerque</div>
<div class="t" style="left:679.64px;top:367px;font-size:5.3px;line-height:8px;color:#4f4f4f;">17.00</div>
<div class="t" style="left:797.84px;top:367px;font-size:5.3px;line-height:8px;color:#4f4f4f;">$625.60</div>
<div class="t" style="left:743.29px;top:379px;font-size:5.3px;line-height:8px;color:#fff;">0.00</div>
<div class="t" style="left:521.00px;top:379px;font-size:5.3px;line-height:8px;color:#4f4f4f;transform:scaleX(1.050);">Albuquerque</div>
<div class="t" style="left:679.64px;top:379px;font-size:5.3px;line-height:8px;color:#4f4f4f;">19.00</div>
<div class="t" style="left:797.84px;top:379px;font-size:5.3px;line-height:8px;color:#4f4f4f;">$516.80</div>
<div class="t" style="left:743.29px;top:392px;font-size:5.3px;line-height:8px;color:#fff;">0.00</div>
<div class="t" style="left:521.00px;top:392px;font-size:5.3px;line-height:8px;color:#4f4f4f;transform:scaleX(1.050);">Albuquerque</div>
<div class="t" style="left:676.69px;top:392px;font-size:5.3px;line-height:8px;color:#4f4f4f;">125.00</div>
<div class="t" style="left:797.84px;top:392px;font-size:5.3px;line-height:8px;color:#4f4f4f;">$775.00</div>
<div class="t" style="left:743.29px;top:404px;font-size:5.3px;line-height:8px;color:#fff;">0.00</div>
<div class="t" style="left:521.00px;top:404px;font-size:5.3px;line-height:8px;color:#4f4f4f;transform:scaleX(1.050);">Anchorage</div>
<div class="t" style="left:679.64px;top:404px;font-size:5.3px;line-height:8px;color:#4f4f4f;">42.00</div>
<div class="t" style="left:793.42px;top:404px;font-size:5.3px;line-height:8px;color:#4f4f4f;">$2,100.00</div>
<div class="t" style="left:743.29px;top:416px;font-size:5.3px;line-height:8px;color:#fff;">0.00</div>
<div class="t" style="left:521.00px;top:416px;font-size:5.3px;line-height:8px;color:#4f4f4f;transform:scaleX(1.050);">Anchorage</div>
<div class="t" style="left:682.59px;top:416px;font-size:5.3px;line-height:8px;color:#4f4f4f;">0.00</div>
<div class="t" style="left:803.74px;top:416px;font-size:5.3px;line-height:8px;color:#4f4f4f;">$0.00</div>
<div class="t" style="left:743.29px;top:428px;font-size:5.3px;line-height:8px;color:#fff;">0.00</div>
<div class="t" style="left:521.00px;top:428px;font-size:5.3px;line-height:8px;color:#4f4f4f;transform:scaleX(1.050);">Anchorage</div>
<div class="t" style="left:679.64px;top:428px;font-size:5.3px;line-height:8px;color:#4f4f4f;">69.00</div>
<div class="t" style="left:797.84px;top:428px;font-size:5.3px;line-height:8px;color:#4f4f4f;">$993.60</div>
<div class="t ns" style="left:522.50px;top:450px;font-size:5.2px;line-height:8px;color:#7a7a7a;font-weight:bold;transform:scaleX(0.950);">Line1</div>
<div class="t ns" style="left:673.50px;top:450px;font-size:5.2px;line-height:8px;color:#7a7a7a;font-weight:bold;transform:scaleX(1.031);">Page 1 of 13</div>
</div>
</body></html>
